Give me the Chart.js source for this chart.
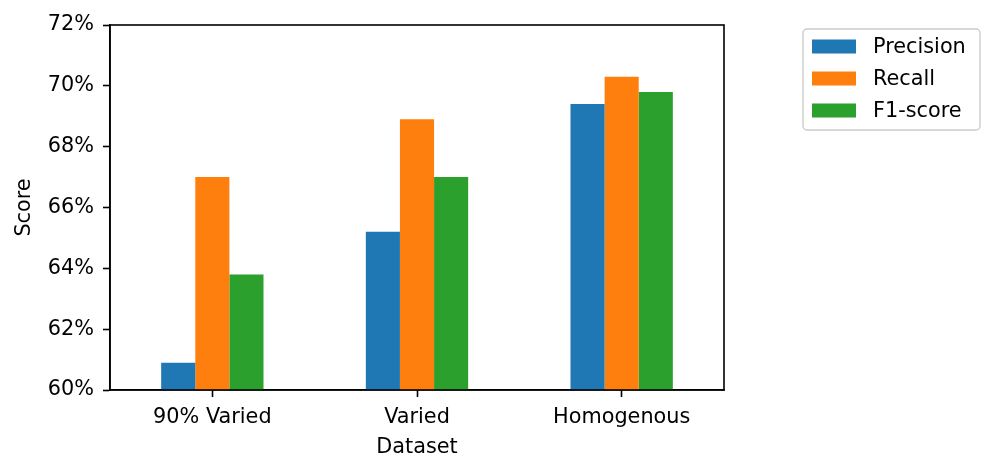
<!DOCTYPE html>
<html>
<head>
<meta charset="utf-8">
<script src="https://cdn.jsdelivr.net/npm/chart.js@4/dist/chart.umd.min.js"></script>
<style>
html,body{margin:0;padding:0;background:#fff;}
#c{display:block;}
</style>
</head>
<body>
<canvas id="c" width="997" height="474"></canvas>
<script>
const categories = ["90% Varied", "Varied", "Homogenous"];
const seriesNames = ["Precision", "Recall", "F1-score"];
const precision = [60.9, 65.2, 69.4];
const recall = [67.0, 68.9, 70.3];
const f1score = [63.8, 67.0, 69.8];
const yTicks = [60, 62, 64, 66, 68, 70, 72];
const colors = ["#1f77b4", "#ff7f0e", "#2ca02c"];

const FONT = "'DejaVu Sans'";
const FS = 20.8;

const framePlugin = {
  id: 'frame',
  afterDraw(chart) {
    const ctx = chart.ctx, a = chart.chartArea;
    ctx.save();
    ctx.strokeStyle = '#000';
    ctx.lineWidth = 1.6;
    ctx.strokeRect(a.left, a.top, a.right - a.left, a.bottom - a.top);
    // legend
    const bx = 803, by = 29, bw = 177, bh = 101, r = 4;
    ctx.beginPath();
    ctx.moveTo(bx + r, by);
    ctx.arcTo(bx + bw, by, bx + bw, by + bh, r);
    ctx.arcTo(bx + bw, by + bh, bx, by + bh, r);
    ctx.arcTo(bx, by + bh, bx, by, r);
    ctx.arcTo(bx, by, bx + bw, by, r);
    ctx.closePath();
    ctx.fillStyle = 'rgba(255,255,255,0.8)';
    ctx.fill();
    ctx.strokeStyle = '#cccccc';
    ctx.lineWidth = 1.4;
    ctx.stroke();
    ctx.font = FS + 'px ' + FONT;
    ctx.textBaseline = 'middle';
    ctx.textAlign = 'left';
    chart.data.datasets.forEach((ds, i) => {
      const cy = 46.5 + i * 32;
      ctx.fillStyle = ds.backgroundColor;
      ctx.fillRect(812, cy - 7, 44, 14);
      ctx.fillStyle = '#000';
      ctx.fillText(ds.label, 873, cy + 1);
    });
    ctx.restore();
  }
};

new Chart(document.getElementById('c'), {
  type: 'bar',
  data: {
    labels: categories,
    datasets: [
      { label: seriesNames[0], data: precision, backgroundColor: colors[0] },
      { label: seriesNames[1], data: recall, backgroundColor: colors[1] },
      { label: seriesNames[2], data: f1score, backgroundColor: colors[2] }
    ]
  },
  options: {
    responsive: false,
    animation: false,
    devicePixelRatio: 1,
    layout: { padding: { top: 25, right: 273, bottom: 0, left: 0 } },
    datasets: { bar: { categoryPercentage: 0.5, barPercentage: 1.0, borderWidth: 0 } },
    plugins: { legend: { display: false }, tooltip: { enabled: false } },
    scales: {
      x: {
        afterFit(s) { s.height = 84; },
        grid: { display: true, drawOnChartArea: false, drawTicks: true, tickLength: 7, tickColor: '#000', tickWidth: 1.6, offset: false },
        border: { display: true, color: '#000', width: 1.6 },
        ticks: { color: '#000', font: { family: FONT, size: FS }, padding: 8, maxRotation: 0 },
        title: { display: true, text: 'Dataset', color: '#000', font: { family: FONT, size: FS }, padding: { top: 0, bottom: 14 } }
      },
      y: {
        min: 60, max: 72,
        afterFit(s) { s.width = 110; },
        afterBuildTicks(s) { s.ticks = yTicks.map(v => ({ value: v })); },
        grid: { display: true, drawOnChartArea: false, drawTicks: true, tickLength: 7, tickColor: '#000', tickWidth: 1.6 },
        border: { display: true, color: '#000', width: 1.6 },
        ticks: { color: '#000', font: { family: FONT, size: FS }, padding: 9, callback: v => v + '%' },
        title: { display: true, text: 'Score', color: '#000', font: { family: FONT, size: FS }, padding: { top: 12, bottom: 0 } }
      }
    }
  },
  plugins: [framePlugin]
});
</script>
</body>
</html>
